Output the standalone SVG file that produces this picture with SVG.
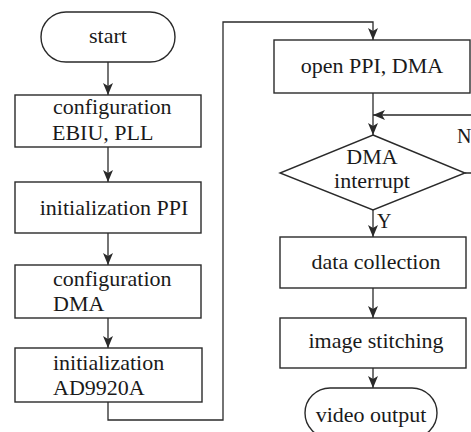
<svg xmlns="http://www.w3.org/2000/svg" width="471" height="432" viewBox="0 0 471 432" font-family="Liberation Serif, DejaVu Serif, serif">
  <style>
    .shape { fill: #ffffff; stroke: #2a2a2a; stroke-width: 1.4; }
    .link { fill: none; stroke: #2a2a2a; stroke-width: 1.3; }
    text { font-size: 22px; fill: #1a1a1a; }
    .mid { text-anchor: middle; }
    .lbl { font-size: 20px; }
  </style>
  <defs>
    <marker id="arrow" viewBox="0 0 12 10" refX="12" refY="5" markerWidth="12" markerHeight="10" markerUnits="userSpaceOnUse" orient="auto">
      <path d="M0,0 L12,5 L0,10 L3,5 z" fill="#2a2a2a"/>
    </marker>
  </defs>
  <rect width="471" height="432" fill="#ffffff"/>

  <g id="connectors">
    <line class="link" x1="108" y1="62" x2="108" y2="95" marker-end="url(#arrow)"/>
    <line class="link" x1="108" y1="147" x2="108" y2="182" marker-end="url(#arrow)"/>
    <line class="link" x1="108" y1="233" x2="108" y2="265" marker-end="url(#arrow)"/>
    <line class="link" x1="108" y1="318" x2="108" y2="348" marker-end="url(#arrow)"/>
    <polyline class="link" points="108,402 108,420 223,420 223,22 373,22 373,40" marker-end="url(#arrow)"/>
    <line class="link" x1="373" y1="93" x2="373" y2="135" marker-end="url(#arrow)"/>
    <polyline class="link" points="465,173 480,173 480,115 373,115" marker-end="url(#arrow)"/>
    <line class="link" x1="373" y1="210" x2="373" y2="237" marker-end="url(#arrow)"/>
    <line class="link" x1="373" y1="288" x2="373" y2="318" marker-end="url(#arrow)"/>
    <line class="link" x1="373" y1="368" x2="373" y2="388" marker-end="url(#arrow)"/>
    <text class="lbl" x="457" y="143">N</text>
    <text class="lbl" x="377" y="228">Y</text>
  </g>

  <g id="start">
    <rect class="shape" x="41" y="12" width="134" height="50" rx="25" ry="25"/>
    <text class="mid" x="108" y="43">start</text>
  </g>

  <g id="config-ebiu-pll">
    <rect class="shape" x="15" y="95" width="186" height="52"/>
    <text x="53" y="114">configuration</text>
    <text x="52" y="140">EBIU, PLL</text>
  </g>

  <g id="init-ppi">
    <rect class="shape" x="15" y="182" width="186" height="51"/>
    <text class="mid" x="114" y="215">initialization PPI</text>
  </g>

  <g id="config-dma">
    <rect class="shape" x="15" y="265" width="186" height="53"/>
    <text x="53" y="286">configuration</text>
    <text x="53" y="311">DMA</text>
  </g>

  <g id="init-ad9920a">
    <rect class="shape" x="15" y="348" width="187" height="54"/>
    <text x="53" y="370">initialization</text>
    <text x="53" y="395">AD9920A</text>
  </g>

  <g id="open-ppi-dma">
    <rect class="shape" x="274" y="40" width="196" height="53"/>
    <text class="mid" x="372" y="73">open PPI, DMA</text>
  </g>

  <g id="dma-interrupt">
    <polygon class="shape" points="373,135 465,173 373,210 280,173"/>
    <text class="mid" x="372" y="164">DMA</text>
    <text class="mid" x="372" y="188">interrupt</text>
  </g>

  <g id="data-collection">
    <rect class="shape" x="280" y="237" width="186" height="51"/>
    <text class="mid" x="376" y="269">data collection</text>
  </g>

  <g id="image-stitching">
    <rect class="shape" x="280" y="318" width="186" height="50"/>
    <text class="mid" x="376" y="348">image stitching</text>
  </g>

  <g id="video-output">
    <rect class="shape" x="305" y="388" width="132" height="50" rx="25" ry="25"/>
    <text class="mid" x="371" y="422">video output</text>
  </g>
</svg>
